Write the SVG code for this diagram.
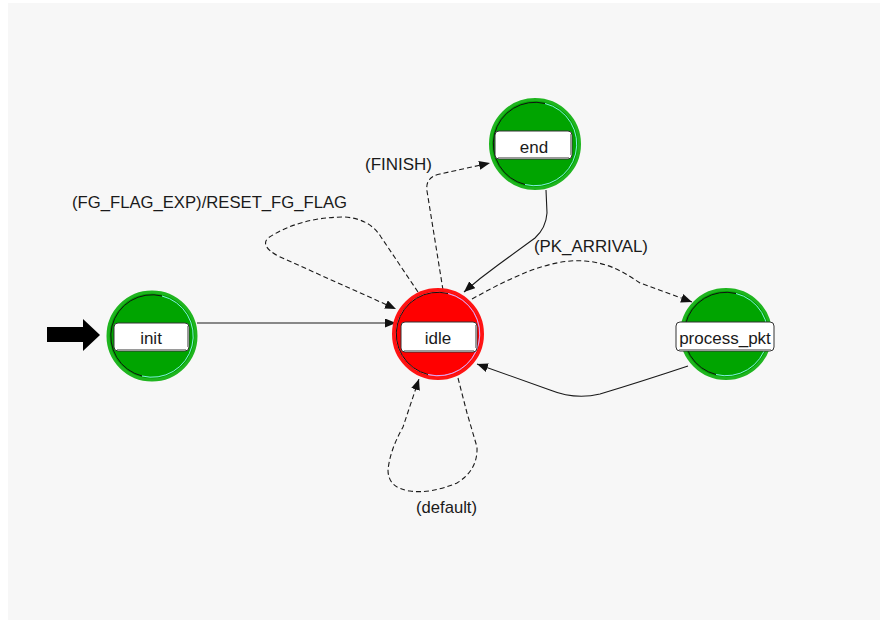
<svg xmlns="http://www.w3.org/2000/svg" width="886" height="628" viewBox="0 0 886 628">
  <defs>
    <marker id="arrow" markerUnits="userSpaceOnUse" markerWidth="12" markerHeight="10" refX="11" refY="4.5" orient="auto">
      <path d="M0,0 L11,4.5 L0,9 z" fill="#111"/>
    </marker>
    <style>
      .txt { font-family: "Liberation Sans", Arial, sans-serif; font-size: 17px; fill: #1a1a1a; }
      .mid { text-anchor: middle; }
      .green { fill: #00a400; stroke: #1fb51f; stroke-width: 3; }
      .red { fill: #ff0000; stroke: #ff1414; stroke-width: 3; }
      .redinner { fill: none; stroke: #ff7a7a; stroke-width: 0.8; }
      .shade { fill: none; stroke: #111; stroke-width: 1; }
      .lightG { fill: none; stroke: #7ff0e0; stroke-width: 1; }
      .lightR { fill: none; stroke: #d8a8ff; stroke-width: 1; }
      .box { fill: #ffffff; stroke: #333; stroke-width: 1; }
      .boxshade { fill: none; stroke: #9a9a9a; stroke-width: 1; }
      .edge { fill: none; stroke: #1a1a1a; stroke-width: 1.1; }
      .dash { stroke-dasharray: 5 3; }
    </style>
  </defs>

  <!-- canvas -->
  <rect x="0" y="0" width="886" height="628" fill="#ffffff"/>
  <rect x="8" y="3" width="872" height="617" fill="#f7f7f7"/>

  <!-- transitions -->
  <g id="connectors">
    <!-- init -> idle -->
    <path class="edge" d="M197,323 L396,323" marker-end="url(#arrow)"/>
    <!-- idle self loop: FG_FLAG_EXP -->
    <path class="edge dash" d="M418,292 L381,237 Q370,219 345,217 Q300,217 268,238 Q260,246 278,256 L396,309" marker-end="url(#arrow)"/>
    <!-- idle -> end: FINISH -->
    <path class="edge dash" d="M443,290 L427,191 Q425,177 440,174 L490,163" marker-end="url(#arrow)"/>
    <!-- end -> idle -->
    <path class="edge" d="M546,190 L547,213 Q546,228 535,238 L498,265 Q480,278 464,292" marker-end="url(#arrow)"/>
    <!-- idle -> process_pkt: PK_ARRIVAL -->
    <path class="edge dash" d="M472,299 C510,278 550,258 585,261 C610,263 625,273 640,283 L692,302" marker-end="url(#arrow)"/>
    <!-- process_pkt -> idle -->
    <path class="edge" d="M688,366 Q640,382 600,394 Q575,400 550,390 L477,364" marker-end="url(#arrow)"/>
    <!-- idle self loop: default -->
    <path class="edge dash" d="M458,378 L467,413 L477,447 Q478,470 457,483 Q430,494 410,491 Q388,488 388,470 Q390,450 403,427 L419,379" marker-end="url(#arrow)"/>

    <text class="txt" x="72" y="208" textLength="275" lengthAdjust="spacingAndGlyphs">(FG_FLAG_EXP)/RESET_FG_FLAG</text>
    <text class="txt" x="365" y="170" textLength="67" lengthAdjust="spacingAndGlyphs">(FINISH)</text>
    <text class="txt" x="534" y="252" textLength="114" lengthAdjust="spacingAndGlyphs">(PK_ARRIVAL)</text>
    <text class="txt" x="416" y="513" textLength="61" lengthAdjust="spacingAndGlyphs">(default)</text>
  </g>

  <!-- initial state marker -->
  <g id="start-arrow">
    <polygon points="47,327 83,327 83,319 100,335 83,351 83,342 47,342" fill="#000"/>
  </g>

  <!-- states -->
  <g id="init">
    <circle class="green" cx="152" cy="336" r="44"/>
    <path class="shade" d="M162,296 A41,41 0 0 0 142,376"/>
    <path class="lightG" d="M162,296 A41,41 0 0 1 142,376"/>
    <rect class="box" x="114" y="323" width="75" height="28" rx="4"/>
    <path class="boxshade" d="M117,349.5 L186,349.5 M187.5,326 L187.5,347"/>
    <text class="txt mid" x="151" y="343.5">init</text>
  </g>

  <g id="idle">
    <circle class="red" cx="438" cy="334" r="44.5"/>
    <circle class="redinner" cx="438" cy="334" r="42"/>
    <path class="shade" d="M448,293.5 A41,41 0 0 0 428,374.5"/>
    <path class="lightR" d="M448,293.5 A41,41 0 0 1 428,374.5"/>
    <rect class="box" x="401" y="322" width="76" height="30" rx="4"/>
    <path class="boxshade" d="M404,350.5 L474,350.5 M475.5,325 L475.5,348"/>
    <text class="txt mid" x="438" y="344">idle</text>
  </g>

  <g id="end">
    <circle class="green" cx="535" cy="144" r="44.5"/>
    <path class="shade" d="M545,103.5 A41,41 0 0 0 525,184.5"/>
    <path class="lightG" d="M545,103.5 A41,41 0 0 1 525,184.5"/>
    <rect class="box" x="495" y="131" width="77" height="28" rx="4"/>
    <path class="boxshade" d="M498,157.5 L569,157.5 M570.5,134 L570.5,155"/>
    <text class="txt mid" x="534" y="153">end</text>
  </g>

  <g id="process_pkt">
    <circle class="green" cx="726" cy="334" r="44.5"/>
    <path class="shade" d="M736,293.5 A41,41 0 0 0 716,374.5"/>
    <path class="lightG" d="M736,293.5 A41,41 0 0 1 716,374.5"/>
    <rect class="box" x="676" y="322" width="98" height="29" rx="4"/>
    <path class="boxshade" d="M679,349.5 L771,349.5"/>
    <text class="txt mid" x="725" y="344">process_pkt</text>
  </g>
</svg>
